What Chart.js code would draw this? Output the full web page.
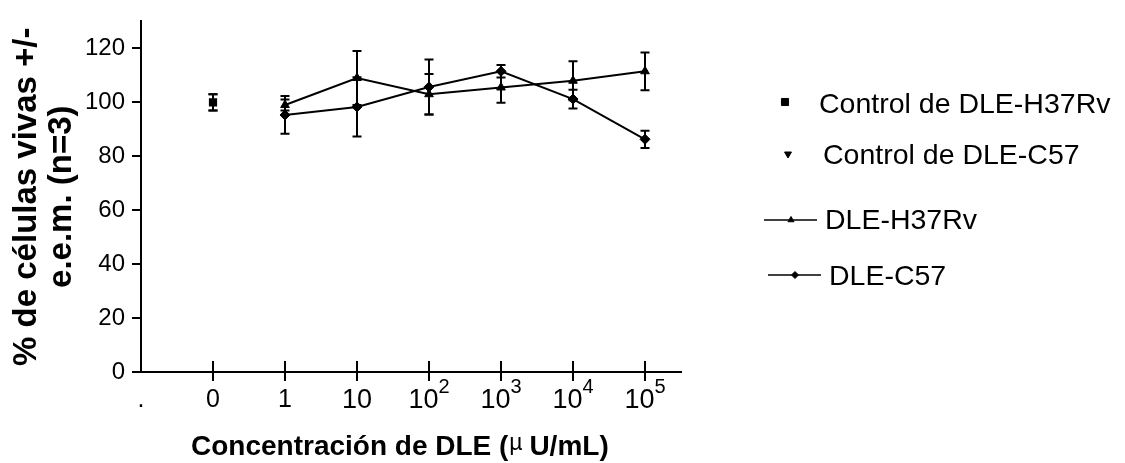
<!DOCTYPE html>
<html><head><meta charset="utf-8">
<script src="https://cdn.jsdelivr.net/npm/chart.js@4"></script>
<style>html,body{margin:0;padding:0;background:#fff}canvas{display:block}</style>
</head><body>
<canvas id="c" width="1125" height="463"></canvas>
<script>
// ---- data ----
const concPositions = [-1, 0, 1, 2, 3, 4, 5, 6];
const concLabels = ['.', '0', '1', '10', '10', '10', '10', '10'];
const concExponents = ['', '', '', '', '2', '3', '4', '5'];
const yTickValues = [0, 20, 40, 60, 80, 100, 120];
const seriesNames = ['Control de DLE-H37Rv', 'Control de DLE-C57', 'DLE-H37Rv', 'DLE-C57'];
const controlPos = [0];
const controlH37Rv = [100];
const controlH37RvErr = [3];
const controlC57 = [100];
const controlC57Err = [3];
const dosePos = [1, 2, 3, 4, 5, 6];
const dleH37Rv = [99, 109, 103, 105.5, 108, 111.5];
const dleH37RvErr = [2, 10, 7.5, 5.7, 7.2, 7];
const dleC57 = [95.3, 98.3, 105.7, 111.5, 101.2, 86.3];
const dleC57Err = [7, 11, 10.2, 2.3, 3.5, 3.2];
const xTitleParts = ['Concentración de DLE (', 'µ', ' U/mL)'];
const yTitleLines = ['% de células vivas +/-', 'e.e.m. (n=3)'];

const FAM = '"Liberation Sans", Arial, Helvetica, sans-serif';
const pts = (xs, ys) => xs.map((x, i) => ({x: x, y: ys[i]}));

const errorBars = {
  id: 'errorBars',
  afterDatasetsDraw(chart) {
    const {ctx} = chart; const x = chart.scales.x, y = chart.scales.y;
    ctx.save(); ctx.strokeStyle = '#000'; ctx.lineWidth = 2;
    chart.data.datasets.forEach(ds => {
      if (!ds.errors) return;
      ds.data.forEach((p, i) => {
        const e = ds.errors[i];
        const px = x.getPixelForValue(p.x);
        const t = y.getPixelForValue(p.y + e), b = y.getPixelForValue(p.y - e);
        ctx.beginPath();
        ctx.moveTo(px, t); ctx.lineTo(px, b);
        ctx.moveTo(px - 4.5, t); ctx.lineTo(px + 4.5, t);
        ctx.moveTo(px - 4.5, b); ctx.lineTo(px + 4.5, b);
        ctx.stroke();
      });
    });
    ctx.restore();
  }
};

const axisDecor = {
  id: 'axisDecor',
  afterDraw(chart) {
    const {ctx, chartArea} = chart; const x = chart.scales.x;
    ctx.save();
    ctx.strokeStyle = '#000'; ctx.lineWidth = 2;
    concPositions.forEach(v => {
      if (v < 0) return;
      const px = x.getPixelForValue(v);
      ctx.beginPath(); ctx.moveTo(px, chartArea.bottom); ctx.lineTo(px, chartArea.bottom - 11); ctx.stroke();
    });
    ctx.fillStyle = '#000'; ctx.textBaseline = 'alphabetic';
    concPositions.forEach((v, i) => {
      const px = x.getPixelForValue(v);
      const base = concLabels[i], ex = concExponents[i];
      if (base === '10') {
        ctx.font = '27px ' + FAM; const w1 = ctx.measureText(base).width;
        ctx.font = '20px ' + FAM; const w2 = ex ? ctx.measureText(ex).width : 0;
        const start = px - (w1 + w2) / 2;
        ctx.textAlign = 'left';
        ctx.font = '27px ' + FAM; ctx.fillText(base, start, 408);
        if (ex) { ctx.font = '20px ' + FAM; ctx.fillText(ex, start + w1, 393); }
      } else {
        ctx.font = '25px ' + FAM; ctx.textAlign = 'center';
        ctx.fillText(base, px, 407);
      }
    });
    // x axis title
    const f1 = 'bold 28px ' + FAM, f2 = '23px ' + FAM;
    ctx.textAlign = 'left';
    let cx = 191;
    ctx.font = f1; ctx.fillText(xTitleParts[0], cx, 455); cx += ctx.measureText(xTitleParts[0]).width;
    ctx.font = f2; ctx.fillText(xTitleParts[1], cx + 1, 450); cx += ctx.measureText(xTitleParts[1]).width;
    ctx.font = f1; ctx.fillText(xTitleParts[2], cx, 455);
    ctx.restore();
  }
};

const customLegend = {
  id: 'customLegend',
  afterDraw(chart, args, opts) {
    const {ctx} = chart;
    ctx.save();
    ctx.fillStyle = '#000'; ctx.strokeStyle = '#000';
    opts.items.forEach((it, i) => {
      if (it.line) {
        ctx.lineWidth = 1.5;
        ctx.beginPath(); ctx.moveTo(it.line[0], it.my); ctx.lineTo(it.line[1], it.my); ctx.stroke();
      }
      ctx.lineWidth = 1;
      Chart.helpers.drawPoint(ctx, {pointStyle: it.style, radius: it.r, rotation: it.rot || 0, borderWidth: 1}, it.mx, it.my);
      ctx.font = '28.5px ' + FAM; ctx.textAlign = 'left'; ctx.textBaseline = 'alphabetic';
      ctx.fillText(seriesNames[i], it.tx, it.ty);
    });
    ctx.restore();
  }
};

new Chart(document.getElementById('c'), {
  type: 'line',
  data: {
    datasets: [
      {label: seriesNames[0], data: pts(controlPos, controlH37Rv), errors: controlH37RvErr, showLine: false,
       pointStyle: 'rect', pointRadius: 5.8, pointBackgroundColor: '#000', pointBorderColor: '#000', pointBorderWidth: 0},
      {label: seriesNames[1], data: pts(controlPos, controlC57), errors: controlC57Err, showLine: false,
       pointStyle: 'triangle', pointRotation: 180, pointRadius: 3.8, pointBackgroundColor: '#000', pointBorderColor: '#000', pointBorderWidth: 0},
      {label: seriesNames[2], data: pts(dosePos, dleH37Rv), errors: dleH37RvErr, borderColor: '#000', borderWidth: 2, tension: 0,
       pointStyle: 'triangle', pointRadius: 5, pointBackgroundColor: '#000', pointBorderColor: '#000', pointBorderWidth: 1},
      {label: seriesNames[3], data: pts(dosePos, dleC57), errors: dleC57Err, borderColor: '#000', borderWidth: 2, tension: 0,
       pointStyle: 'rectRot', pointRadius: 5, pointBackgroundColor: '#000', pointBorderColor: '#000', pointBorderWidth: 1}
    ]
  },
  options: {
    responsive: false, animation: false, devicePixelRatio: 1,
    layout: {padding: {left: 0, top: 10, right: 444, bottom: 0}},
    plugins: {
      legend: {display: false}, tooltip: {enabled: false},
      customLegend: {items: [
        {style: 'rect', r: 5, mx: 785, my: 102, tx: 819, ty: 112.5},
        {style: 'triangle', rot: 180, r: 4, mx: 788, my: 154, tx: 823, ty: 164},
        {style: 'triangle', r: 3.5, mx: 791, my: 220, line: [764, 817], tx: 825, ty: 229},
        {style: 'rectRot', r: 3.5, mx: 795, my: 275, line: [768, 821], tx: 829, ty: 285}
      ]}
    },
    scales: {
      x: {
        type: 'linear', min: -1, max: 6.5,
        afterBuildTicks: s => { s.ticks = concPositions.map(v => ({value: v})); },
        afterFit: s => { s.height = 91; },
        ticks: {display: false},
        grid: {drawOnChartArea: false, drawTicks: true, tickLength: 9, lineWidth: 2,
               color: c => (c.tick && c.tick.value < 0) ? 'rgba(0,0,0,0)' : '#000'},
        border: {display: true, color: '#000', width: 2},
        title: {display: false}
      },
      y: {
        type: 'linear', min: 0, max: 130,
        afterBuildTicks: s => { s.ticks = yTickValues.map(v => ({value: v})); },
        afterFit: s => { s.width = 141; },
        ticks: {color: '#000', padding: 7, font: {family: FAM, size: 24}},
        grid: {drawOnChartArea: false, drawTicks: true, tickLength: 9, lineWidth: 2, color: '#000'},
        border: {display: true, color: '#000', width: 2},
        title: {display: true, text: yTitleLines, color: '#000', padding: {top: 10, bottom: 0},
                font: {family: FAM, size: 33, weight: 'bold', lineHeight: 1.05}}
      }
    }
  },
  plugins: [errorBars, axisDecor, customLegend]
});
</script>
</body></html>
